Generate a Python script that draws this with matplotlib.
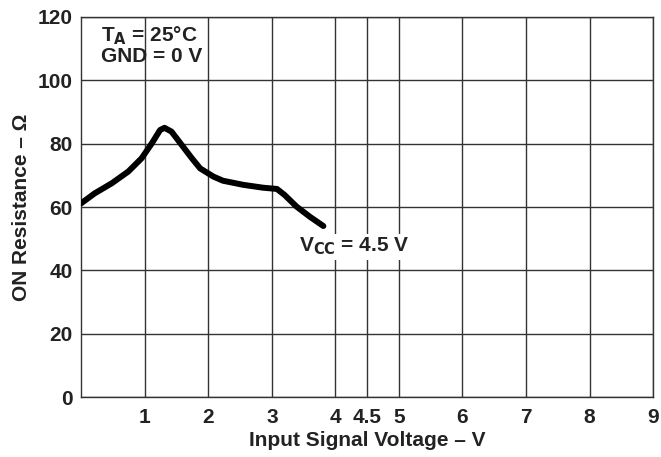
import matplotlib
matplotlib.use('Agg')
import matplotlib.pyplot as plt

# curve V_CC = 4.5 V
vin = [0.0, 0.21, 0.48, 0.74, 0.95, 1.11, 1.24, 1.31, 1.42, 1.58, 1.74, 1.87,
       2.08, 2.23, 2.55, 2.86, 3.08, 3.2, 3.39, 3.6, 3.81]
ron = [61.2, 64.3, 67.5, 71.2, 75.4, 80.1, 84.3, 85.0, 83.8, 79.6, 75.4, 72.2,
       69.6, 68.3, 67.0, 66.1, 65.7, 63.8, 60.1, 56.9, 54.0]

xticks = [1, 2, 3, 4, 4.5, 5, 6, 7, 8, 9]
xtick_labels = ['1', '2', '3', '4', '4.5', '5', '6', '7', '8', '9']
yticks = [0, 20, 40, 60, 80, 100, 120]

plt.rcParams['font.family'] = ['Liberation Sans', 'DejaVu Sans']
plt.rcParams['font.weight'] = 'bold'
fs = 15

fig = plt.figure(figsize=(6.61, 4.57), dpi=100)
ax = fig.add_axes([0.123, 0.131, 0.865, 0.832])

ax.plot(vin, ron, color='black', linewidth=4.3, solid_capstyle='round',
        solid_joinstyle='round', zorder=3)

ax.set_xlim(0, 9)
ax.set_ylim(0, 120)
ax.set_xticks(xticks)
ax.set_xticklabels(xtick_labels)
ax.set_yticks(yticks)
ax.tick_params(length=0, labelsize=fs, colors='#222222')
ax.tick_params(axis='x', pad=8)
ax.tick_params(axis='y', pad=6)
for lab in ax.get_xticklabels() + ax.get_yticklabels():
    lab.set_fontweight('bold')

ax.grid(True, color='#333333', linewidth=1.0)
ax.set_axisbelow(True)
for s in ax.spines.values():
    s.set_color('#333333')
    s.set_linewidth(1.0)

ax.set_xlabel('Input Signal Voltage – V', fontsize=fs, fontweight='bold',
              color='#222222', labelpad=3)
ax.set_ylabel('ON Resistance – Ω', fontsize=fs, fontweight='bold',
              color='#222222', labelpad=5)

ax.text(0.31, 117.5, r'T$_\mathbf{A}$ = 25°C' + '\nGND = 0 V', fontsize=fs,
        fontweight='bold', color='#222222', va='top', ha='left', linespacing=1.0)
ax.text(3.42, 47.5, r'V$_\mathbf{CC}$ = 4.5 V', fontsize=fs, fontweight='bold',
        color='#222222', va='center', ha='left', zorder=4,
        bbox=dict(facecolor='white', edgecolor='none', pad=1.5))

fig.savefig('out.png', dpi=100)
